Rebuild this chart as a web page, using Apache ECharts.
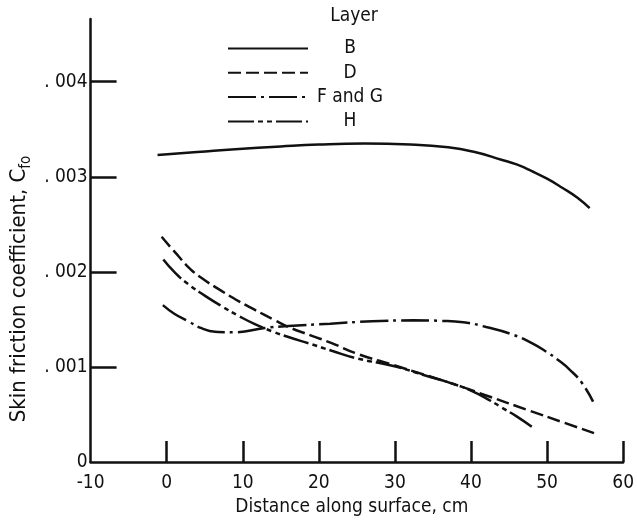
<!DOCTYPE html>
<html><head><meta charset="utf-8">
<script src="https://cdn.jsdelivr.net/npm/echarts@6/dist/echarts.min.js"></script>
<style>html,body{margin:0;padding:0;background:#fff}#c{width:637px;height:522px}</style>
</head><body><div id="c"></div>
<script>
// Series names (layers)
const layers = ['B', 'D', 'F and G', 'H'];

// Layer B (solid)
const xB = [-1.2, 4, 9, 15, 20, 26, 32, 37, 40.5, 44, 46, 48, 50, 52, 54, 55.6];
const yB = [0.00323, 0.00326, 0.00329, 0.00332, 0.00334, 0.00335, 0.00334, 0.00331, 0.00326, 0.00318, 0.00313, 0.00306, 0.00298, 0.002885, 0.00278, 0.00267];

// Layer D (dashed)
const xD = [-0.66, 0.5, 1.5, 2.84, 4.5, 7.2, 9.5, 11.6, 14, 16, 19, 21.7, 25, 29.8, 34, 38.1, 42, 47.7, 52, 56.5];
const yD = [0.00237, 0.00226, 0.00217, 0.00205, 0.00194, 0.00180, 0.00169, 0.00160, 0.00150, 0.00142, 0.00133, 0.00125, 0.00114, 0.00102, 0.000915, 0.00081, 0.00070, 0.00054, 0.00042, 0.000295];

// Layer F and G (long dash - dot)
const xFG = [-0.5, 1, 2.84, 4.5, 6.35, 9, 12.9, 16, 21.5, 27, 32.4, 36, 39, 42, 45.5, 48, 49.9, 51.5, 53, 54.6, 56.05];
const yFG = [0.00165, 0.00156, 0.00148, 0.00141, 0.00137, 0.001365, 0.00141, 0.00143, 0.001455, 0.00148, 0.00149, 0.001485, 0.00147, 0.00142, 0.00134, 0.00125, 0.00116, 0.00107, 0.00097, 0.00083, 0.000635];

// Layer H (dash - dot - dot)
const xH = [-0.44, 1, 2.84, 5, 7.2, 9.5, 11.6, 14, 16, 19, 21.7, 25, 29.8, 34, 38.1, 40, 42, 44, 46, 48];
const yH = [0.00213, 0.00200, 0.00187, 0.00175, 0.00164, 0.001535, 0.00145, 0.00137, 0.001315, 0.00124, 0.00117, 0.00109, 0.00101, 0.00091, 0.00081, 0.00075, 0.00067, 0.000575, 0.00048, 0.00037];

// Axis ticks / labels
const xTickValues = [0, 10, 20, 30, 40, 50, 60];
const xLabelValues = [-10, 0, 10, 20, 30, 40, 50, 60];
const yTickValues = [0.001, 0.002, 0.003, 0.004];
const yLabelValues = [0, 0.001, 0.002, 0.003, 0.004];
const yLabelTexts = ['0', '. 001', '. 002', '. 003', '. 004'];

const xAxisTitle = 'Distance along surface, cm';
const legendTitle = 'Layer';

const FONT = "'DejaVu Sans Condensed','Liberation Sans Narrow','Arial Narrow',sans-serif";
const INK = '#111';
const dashes = {'B': 'solid', 'D': [13, 5], 'F and G': [28, 5, 3, 5], 'H': [26, 4, 5, 4, 5, 4]};

const zip = (xs, ys) => xs.map((x, i) => [x, ys[i]]);
const seriesData = {'B': zip(xB, yB), 'D': zip(xD, yD), 'F and G': zip(xFG, yFG), 'H': zip(xH, yH)};

const chart = echarts.init(document.getElementById('c'), null, {renderer: 'canvas'});
chart.setOption({
  animation: false,
  backgroundColor: '#fff',
  textStyle: {fontFamily: FONT, color: INK},
  title: {
    text: legendTitle, left: 349, top: 2, textAlign: 'center',
    textStyle: {fontFamily: FONT, fontSize: 19, fontWeight: 'normal', color: INK}
  },
  legend: {
    orient: 'vertical', left: 227, top: 39, padding: 0,
    itemWidth: 80, itemHeight: 20, itemGap: 5.3,
    data: layers,
    itemStyle: {opacity: 0, color: 'rgba(0,0,0,0)', borderWidth: 0},
    formatter: n => '{t|' + n + '}',
    textStyle: {
      fontFamily: FONT, color: INK,
      rich: {t: {width: 74, align: 'center', fontSize: 19, lineHeight: 20, fontFamily: FONT, color: INK}}
    }
  },
  grid: {left: 90.6, right: 13.7, top: 19, bottom: 60, containLabel: false},
  xAxis: {
    type: 'value', min: -10, max: 60, interval: 10,
    name: xAxisTitle, nameLocation: 'middle', nameGap: 35,
    nameTextStyle: {fontFamily: FONT, fontSize: 19, color: INK, padding: [0, 10, 0, 0]},
    axisLine: {show: true, onZero: false, lineStyle: {color: INK, width: 2.5}},
    axisTick: {show: true, inside: true, length: 21, customValues: xTickValues, lineStyle: {color: INK, width: 2.5}},
    axisLabel: {customValues: xLabelValues, margin: 12, fontFamily: FONT, fontSize: 19, color: INK},
    splitLine: {show: false}
  },
  yAxis: {
    type: 'value', min: 0, max: 0.00466, interval: 0.001,
    name: '{m|Skin friction coefficient, C}{s|fo}', nameLocation: 'middle', nameGap: 55, nameRotate: 90,
    nameTextStyle: {
      fontFamily: FONT, fontSize: 22, color: INK, padding: [0, 97, 0, 0],
      rich: {
        m: {fontFamily: FONT, fontSize: 22, color: INK, lineHeight: 23, verticalAlign: 'top'},
        s: {fontFamily: FONT, fontSize: 15, color: INK, lineHeight: 15, padding: [10, 0, 0, 0], verticalAlign: 'top'}
      }
    },
    axisLine: {show: true, onZero: false, lineStyle: {color: INK, width: 2.5}},
    axisTick: {show: true, inside: true, length: 26, customValues: yTickValues, lineStyle: {color: INK, width: 2.5}},
    axisLabel: {
      customValues: yLabelValues, margin: 3, fontFamily: FONT, fontSize: 19, color: INK,
      formatter: v => {
        const i = yLabelValues.findIndex(t => Math.abs(t - v) < 1e-9);
        return i >= 0 ? yLabelTexts[i] : '';
      }
    },
    splitLine: {show: false}
  },
  series: layers.map(n => ({
    name: n, type: 'line', data: seriesData[n],
    showSymbol: false, symbol: 'none', smooth: 0.5,
    lineStyle: {color: INK, width: 2.5, type: dashes[n]},
    itemStyle: {color: INK}
  }))
});
</script>
</body></html>
